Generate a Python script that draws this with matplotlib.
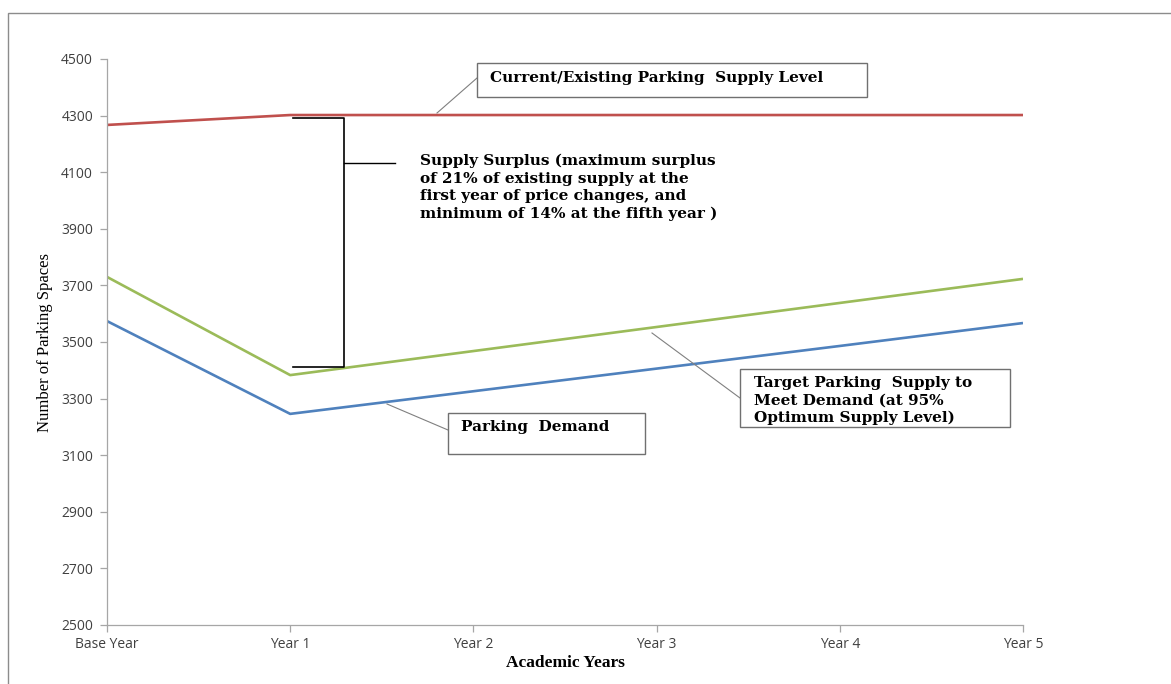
import matplotlib
matplotlib.use("Agg")
import matplotlib.pyplot as plt
from matplotlib.patches import Rectangle

# Academic years and the three parking series
years = ["Base Year", "Year 1", "Year 2", "Year 3", "Year 4", "Year 5"]
existing_supply = [4267, 4302, 4302, 4302, 4302, 4302]
target_supply = [3730, 3383, 3468, 3553, 3638, 3723]
parking_demand = [3574, 3246, 3326, 3406, 3486, 3567]
y_ticks = [2500, 2700, 2900, 3100, 3300, 3500, 3700, 3900, 4100, 4300, 4500]

W, H = 1171, 684
fig = plt.figure(figsize=(W / 100, H / 100), dpi=100)
ax = fig.add_axes([107 / W, 1 - 625 / H, (1023 - 107) / W, (625 - 59) / H])

x = list(range(len(years)))
ax.plot(x, existing_supply, color="#C0504D", lw=1.9, solid_capstyle="butt")
ax.plot(x, target_supply, color="#9BBB59", lw=1.9, solid_capstyle="butt")
ax.plot(x, parking_demand, color="#4F81BD", lw=1.9, solid_capstyle="butt")

ax.set_xlim(0, len(years) - 1)
ax.set_ylim(2500, 4500)
ax.set_xticks(x)
ax.set_xticklabels(years)
ax.set_yticks(y_ticks)

for s in ("top", "right"):
    ax.spines[s].set_visible(False)
for s in ("left", "bottom"):
    ax.spines[s].set_color("#A6A6A6")
    ax.spines[s].set_linewidth(0.9)
ax.tick_params(colors="#A6A6A6", length=5, width=0.9, labelcolor="#404040",
               labelsize=10)
for lab in ax.get_xticklabels() + ax.get_yticklabels():
    lab.set_fontfamily("Open Sans")
ax.tick_params(axis="x", pad=4)
ax.tick_params(axis="y", pad=5)

ax.set_xlabel("Academic Years", family="Liberation Serif", fontweight="bold",
              fontsize=12.5, labelpad=2)
ax.set_ylabel("Number of Parking Spaces", family="Liberation Serif",
              fontsize=12, labelpad=6)


# pixel -> data helpers for the annotation layout
def dx(px):
    return (px - 107) / ((1023 - 107) / 5)


def dy(py):
    return 4500 - (py - 59) * 2000 / (625 - 59)


serif = dict(family="DejaVu Serif", fontweight="bold", fontsize=11,
             color="black")


def box(x0, y0, x1, y1):
    ax.add_patch(Rectangle((dx(x0), dy(y1)), dx(x1) - dx(x0), dy(y0) - dy(y1),
                           fill=False, edgecolor="#707070", lw=1.0,
                           clip_on=False, zorder=5))


# Existing supply callout
box(477, 63, 867, 97)
ax.text(dx(490), dy(78), "Current/Existing Parking  Supply Level",
        va="center", ha="left", **serif)
ax.plot([dx(437), dx(477)], [dy(113), dy(78)], color="#808080", lw=0.8,
        clip_on=False)

# Parking demand callout
box(448, 413, 645, 454)
ax.text(dx(461), dy(427), "Parking  Demand", va="center", ha="left", **serif)
ax.plot([dx(387), dx(448)], [dy(404), dy(430)], color="#808080", lw=0.8,
        clip_on=False)

# Target supply callout
box(740, 369, 1010, 427)
ax.text(dx(754), dy(376),
        "Target Parking  Supply to\nMeet Demand (at 95%\nOptimum Supply Level)",
        va="top", ha="left", linespacing=1.3, **serif)
ax.plot([dx(652), dx(740)], [dy(333), dy(398)], color="#808080", lw=0.8,
        clip_on=False)

# Surplus bracket between existing supply and target supply at Year 1
bx = dx(344)
ax.plot([dx(293), bx, bx, dx(293)], [dy(118), dy(118), dy(367), dy(367)],
        color="black", lw=1.2, clip_on=False)
ax.plot([bx, dx(395)], [dy(163), dy(163)], color="black", lw=1.0)
ax.text(dx(420), dy(154),
        "Supply Surplus (maximum surplus\nof 21% of existing supply at the\n"
        "first year of price changes, and\nminimum of 14% at the fifth year )",
        va="top", ha="left", linespacing=1.3, **serif)

# Outer chart frame
fig.add_artist(Rectangle((8 / W, -0.02), 1.1, 1 - 13 / H + 0.02,
                         transform=fig.transFigure, fill=False,
                         edgecolor="#8C8C8C", lw=1.0))

fig.savefig("out.png", dpi=100, facecolor="white")
